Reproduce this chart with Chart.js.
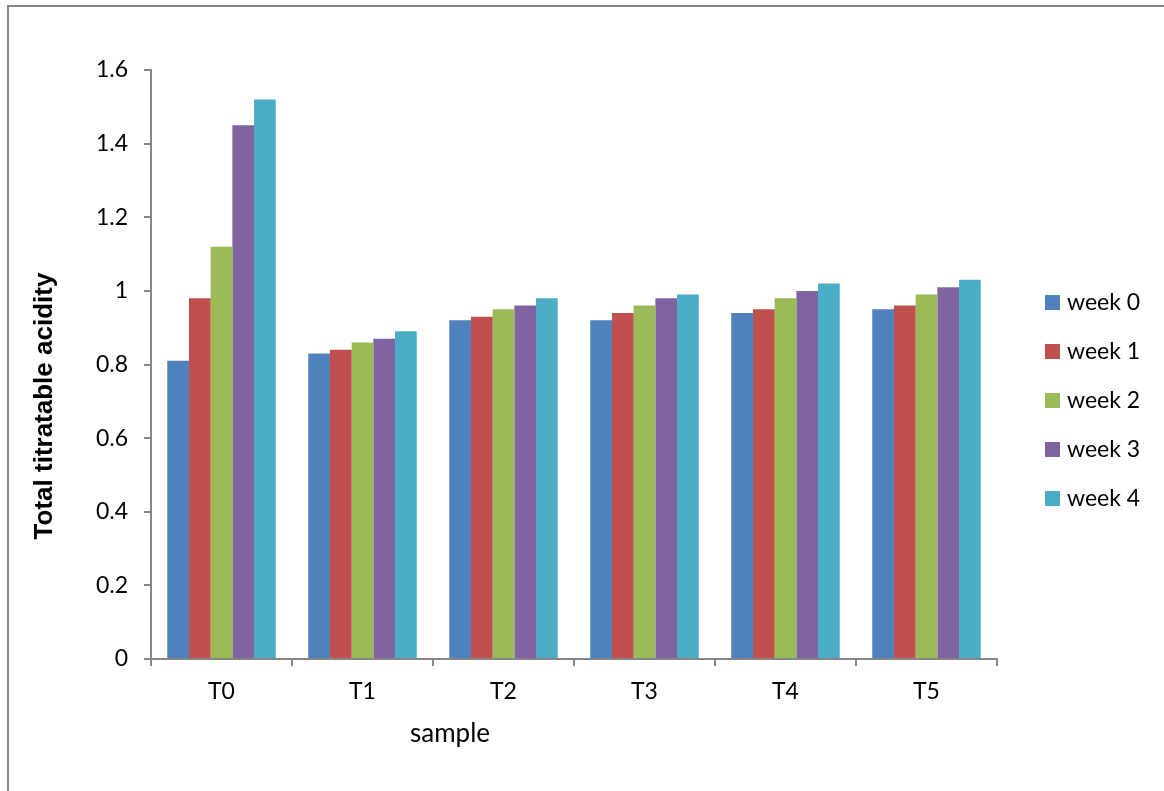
<!DOCTYPE html>
<html>
<head>
<meta charset="utf-8">
<title>Total titratable acidity</title>
<script src="https://cdn.jsdelivr.net/npm/chart.js@4/dist/chart.umd.min.js"></script>
<style>
  html, body { margin: 0; padding: 0; background: #fff; }
  canvas { display: block; }
</style>
</head>
<body>
<canvas id="chart" width="1164" height="791"></canvas>
<script>
// =========================
// DATA
// =========================
const samples = ["T0", "T1", "T2", "T3", "T4", "T5"];
const weekLabels = ["week 0", "week 1", "week 2", "week 3", "week 4"];

const week0 = [0.81, 0.83, 0.92, 0.92, 0.94, 0.95];
const week1 = [0.98, 0.84, 0.93, 0.94, 0.95, 0.96];
const week2 = [1.12, 0.86, 0.95, 0.96, 0.98, 0.99];
const week3 = [1.45, 0.87, 0.96, 0.98, 1.0, 1.01];
const week4 = [1.52, 0.89, 0.98, 0.99, 1.02, 1.03];

const weekColors = ["#4F81BD", "#C0504D", "#9BBB59", "#8064A2", "#4BACC6"];

const FONT = "Lato, 'Liberation Sans', sans-serif";
const TITLE_FONT = "'Liberation Sans', Arial, sans-serif";
const AXIS_GRAY = "#868686";

// =========================
// PLUGINS
// =========================
// outer frame + axis titles (off-centre like the original)
const decorPlugin = {
  id: "decor",
  beforeDraw(chart) {
    const ctx = chart.ctx;
    ctx.save();
    ctx.strokeStyle = AXIS_GRAY;
    ctx.lineWidth = 2;
    ctx.strokeRect(8, 6, 1300, 1000);
    ctx.restore();
  },
  afterDraw(chart) {
    const ctx = chart.ctx;
    ctx.save();
    ctx.fillStyle = "#000";
    ctx.textAlign = "center";
    ctx.textBaseline = "middle";

    ctx.font = "26px " + FONT;
    ctx.fillText("sample", 450, 734);

    ctx.translate(45, 406);
    ctx.rotate(-Math.PI / 2);
    ctx.font = "bold 26px " + TITLE_FONT;
    ctx.fillText("Total titratable acidity", 0, 0);
    ctx.restore();
  },
};

// legend on the right, drawn from the datasets
const legendPlugin = {
  id: "sideLegend",
  afterDraw(chart) {
    const ctx = chart.ctx;
    ctx.save();
    ctx.font = "23px " + FONT;
    ctx.textBaseline = "middle";
    ctx.textAlign = "left";
    chart.data.datasets.forEach((ds, i) => {
      const y = 302 + i * 49;
      ctx.fillStyle = ds.backgroundColor;
      ctx.fillRect(1045, y - 7, 15, 15);
      ctx.fillStyle = "#000";
      ctx.fillText(ds.label, 1067, y + 1);
    });
    ctx.restore();
  },
};

// =========================
// CHART
// =========================
const seriesValues = [week0, week1, week2, week3, week4];

const ctx = document.getElementById("chart").getContext("2d");
const chart = new Chart(ctx, {
  type: "bar",
  data: {
    labels: samples,
    datasets: seriesValues.map((vals, i) => ({
      label: weekLabels[i],
      data: vals,
      backgroundColor: weekColors[i],
      borderWidth: 0,
      categoryPercentage: 5 / 6.5,
      barPercentage: 1.0,
    })),
  },
  options: {
    responsive: false,
    animation: false,
    devicePixelRatio: 1,
    layout: {
      padding: { top: 70, left: 0, right: 167, bottom: 0 },
    },
    scales: {
      x: {
        grid: {
          offset: true,
          drawOnChartArea: false,
          drawTicks: true,
          tickLength: 7,
          color: AXIS_GRAY,
          lineWidth: 2,
        },
        border: { color: AXIS_GRAY, width: 2 },
        ticks: {
          color: "#000",
          font: { family: FONT, size: 23 },
          padding: 12,
          maxRotation: 0,
        },
        afterFit: (scale) => {
          scale.height = 791 - 659;
        },
      },
      y: {
        min: 0,
        max: 1.6,
        grid: {
          drawOnChartArea: false,
          drawTicks: true,
          tickLength: 7,
          color: AXIS_GRAY,
          lineWidth: 2,
        },
        border: { color: AXIS_GRAY, width: 2 },
        ticks: {
          stepSize: 0.2,
          color: "#000",
          font: { family: FONT, size: 23 },
          padding: 16,
          callback: (v) => String(Math.round(v * 10) / 10),
        },
        afterFit: (scale) => {
          scale.width = 151;
        },
      },
    },
    plugins: {
      legend: { display: false },
      tooltip: { enabled: false },
    },
  },
  plugins: [decorPlugin, legendPlugin],
});
</script>
</body>
</html>
